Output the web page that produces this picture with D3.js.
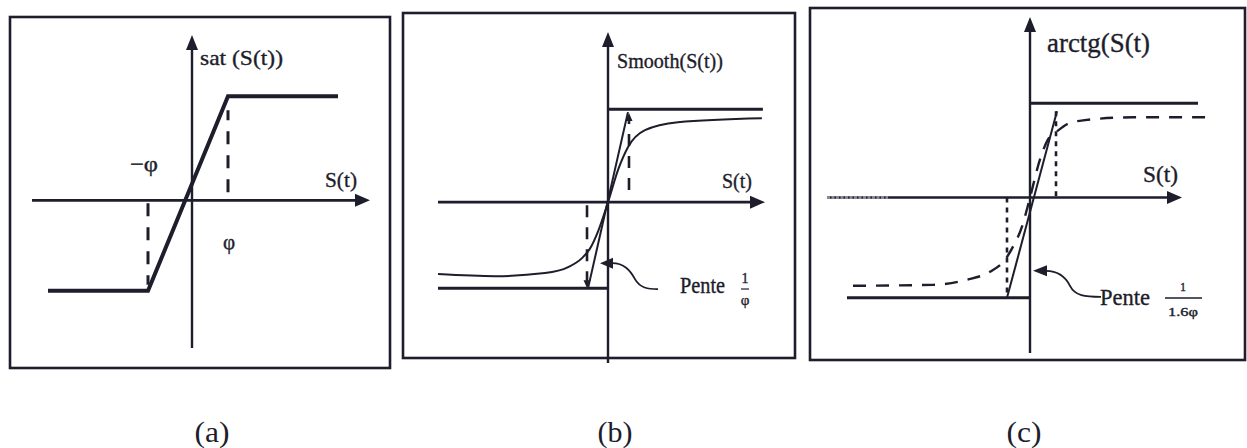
<!DOCTYPE html>
<html>
<head>
<meta charset="utf-8">
<script src="https://cdn.jsdelivr.net/npm/d3@7"></script>
<style>
  body { margin: 0; background: #fff; }
  svg { display: block; }
</style>
</head>
<body>
<svg id="chart" width="1247" height="448"></svg>
<script>
// ---------- (a) saturation function: x in units of φ, y in units of the saturation level
const satX = [-3.6, -1.1, 0.9, 3.65];
const satY = [-0.87, -0.87, 1.0, 1.0];
const satKneeX = [-1.1, 0.9];
const satKneeY = [-0.87, 1.0];

// ---------- (b) smooth function
const smoothX = [-8.1, -5.38, -3.0, -1.9, -1.24, -0.86, -0.45, 0, 0.5, 0.95, 1.76, 3.33, 7.33];
const smoothY = [-0.774, -0.796, -0.763, -0.699, -0.602, -0.5, -0.3, 0, 0.36, 0.591, 0.774, 0.86, 0.903];
const smoothLevelY = [1.0, -0.925];
const smoothLevelX = [[0, 7.38], [-8.1, 0]];
const smoothSlopeX = [-0.95, 0.95];
const smoothSlopeY = [-0.925, 0.968];
const smoothKneeX = [-1, 1];
const smoothKneeY = [[0, -0.925], [0.13, 0.96]];

// ---------- (c) arctangent function
const arctgX = [-7.08, -3.88, -2.52, -1.6, -1.0, -0.68, -0.32, 0, 0.4, 0.72, 1.08, 1.48, 2.12, 4.12, 7.08];
const arctgY = [-0.936, -0.926, -0.872, -0.787, -0.66, -0.521, -0.309, 0, 0.404, 0.617, 0.702, 0.777, 0.819, 0.851, 0.851];
const arctgLevelY = [1.0, -1.064];
const arctgLevelX = [[0, 6.72], [-7.32, 0]];
const arctgSlopeX = [-0.92, 1.08];
const arctgSlopeY = [-1.064, 0.915];
const arctgKneeX = [-0.92, 1.04];
const arctgKneeY = [[0, -1.064], [0.915, 0]];

// ---------- labels
const captions = ["(a)", "(b)", "(c)"];
const yLabels = ["sat (S(t))", "Smooth(S(t))", "arctg(S(t)"];
const xLabel = "S(t)";
const slopeWord = "Pente";
const slopeDen = ["φ", "1.6φ"];

// ---------- layout
const ink = "#1d1d2c";
const serif = "'Liberation Serif', 'Times New Roman', Times, serif";
const svg = d3.select("#chart");

const panels = [
  { frame: [10, 17, 390, 368], xDom: [-4, 4.45], xRng: [32, 370], yDom: [-1.42, 1.59], yRng: [348, 35] },
  { frame: [403, 13, 795, 358], xDom: [-8.1, 7.48], xRng: [438, 765], yDom: [-1.73, 1.83], yRng: [363, 32] },
  { frame: [810, 8, 1245, 360], xDom: [-8.12, 6.08], xRng: [827, 1182], yDom: [-1.649, 1.915], yRng: [353, 17] }
];
panels.forEach(p => {
  p.x = d3.scaleLinear().domain(p.xDom).range(p.xRng);
  p.y = d3.scaleLinear().domain(p.yDom).range(p.yRng);
  p.g = svg.append("g");
});

function tri(g, x, y, dir, len, hw) {
  let pts;
  if (dir === "up") pts = [[x, y], [x - hw, y + len], [x + hw, y + len]];
  if (dir === "down") pts = [[x, y], [x - hw, y - len], [x + hw, y - len]];
  if (dir === "right") pts = [[x, y], [x - len, y - hw], [x - len, y + hw]];
  if (dir === "left") pts = [[x, y], [x + len, y - hw], [x + len, y + hw]];
  g.append("path").attr("d", d3.line()(pts) + "Z").attr("fill", ink);
}

function seg(g, x1, y1, x2, y2, w, dash) {
  const l = g.append("line")
    .attr("x1", x1).attr("y1", y1).attr("x2", x2).attr("y2", y2)
    .attr("stroke", ink).attr("stroke-width", w);
  if (dash) l.attr("stroke-dasharray", dash);
  return l;
}

function frameAndAxes(p) {
  const [fx0, fy0, fx1, fy1] = p.frame;
  p.g.append("rect")
    .attr("x", fx0).attr("y", fy0).attr("width", fx1 - fx0).attr("height", fy1 - fy0)
    .attr("fill", "none").attr("stroke", ink).attr("stroke-width", 2.6);
  const x0 = p.x(0), y0 = p.y(0);
  const [xa, xb] = p.x.range();
  const [yb, ya] = p.y.range();
  seg(p.g, xa, y0, xb - 6, y0, 2.6);
  tri(p.g, xb, y0, "right", 15, 6.5);
  seg(p.g, x0, yb, x0, ya + 6, 2.4);
  tri(p.g, x0, ya, "up", 15, 6);
}

function txt(g, s, x, y, size, anchor, len) {
  const t = g.append("text").attr("x", x).attr("y", y)
    .attr("font-family", serif).attr("fill", ink)
    .attr("stroke", ink).attr("stroke-width", 0.35)
    .attr("font-size", size).attr("text-anchor", anchor || "start").text(s);
  if (len) t.attr("textLength", len).attr("lengthAdjust", "spacingAndGlyphs");
  return t;
}

// ===================== (a)
{
  const p = panels[0], g = p.g, x = p.x, y = p.y;
  frameAndAxes(p);
  // dashed guides at ±φ
  satKneeX.forEach((kx, i) => {
    const ky = satKneeY[i];
    seg(g, x(kx), y(0) + (ky < 0 ? 3 : -8), x(kx), y(ky) + (ky < 0 ? -6 : 14), 3, "13,11");
  });
  g.append("path")
    .datum(satX.map((v, i) => [v, satY[i]]))
    .attr("d", d3.line().x(d => x(d[0])).y(d => y(d[1])))
    .attr("fill", "none").attr("stroke", ink).attr("stroke-width", 4).attr("stroke-linejoin", "miter");
  txt(g, yLabels[0], x(0) + 8, 65, 22, "start", 83);
  txt(g, xLabel, 325, 187, 21, "start", 32);
  txt(g, "−φ", x(satKneeX[0]) - 4, 171, 21, "middle", 28);
  txt(g, "φ", x(satKneeX[1]) + 1, 249, 21, "middle");
}

// ===================== (b)
{
  const p = panels[1], g = p.g, x = p.x, y = p.y;
  frameAndAxes(p);
  smoothLevelY.forEach((lv, i) => {
    seg(g, x(smoothLevelX[i][0]), y(lv), x(smoothLevelX[i][1]), y(lv), 3);
  });
  // dashed guides with small arrowheads toward the levels
  smoothKneeX.forEach((kx, i) => {
    const [a, b] = smoothKneeY[i];
    seg(g, x(kx), y(a) + (i === 0 ? 3 : 0), x(kx), y(b) + (i === 0 ? -6 : 6), 2.6, "12,10");
    tri(g, x(kx), y(b), i === 0 ? "down" : "up", 8, 3.5);
  });
  // slope line
  seg(g, x(smoothSlopeX[0]), y(smoothSlopeY[0]), x(smoothSlopeX[1]), y(smoothSlopeY[1]), 2);
  // smooth curve
  g.append("path")
    .datum(smoothX.map((v, i) => [v, smoothY[i]]))
    .attr("d", d3.line().curve(d3.curveMonotoneX).x(d => x(d[0])).y(d => y(d[1])))
    .attr("fill", "none").attr("stroke", ink).attr("stroke-width", 2);
  // slope annotation
  const tx = x(0) - 8, ty = y(-0.656);
  tri(g, tx, ty, "left", 13, 5.5);
  g.append("path")
    .attr("d", `M${tx + 12},${ty} C${tx + 24},${ty} ${tx + 30},${ty + 7} ${tx + 35},${ty + 16} S${tx + 48},${ty + 26} ${tx + 58},${ty + 26}`)
    .attr("fill", "none").attr("stroke", ink).attr("stroke-width", 1.8);
  txt(g, slopeWord, 680, 293, 23, "start", 45);
  txt(g, "1", 745, 283, 14, "middle");
  seg(g, 741, 289, 749, 289, 1.2);
  txt(g, slopeDen[0], 745, 305, 15, "middle");
  txt(g, yLabels[1], x(0) + 9, 68, 21, "start", 106);
  txt(g, xLabel, 722, 188, 21, "start", 30);
}

// ===================== (c)
{
  const p = panels[2], g = p.g, x = p.x, y = p.y;
  frameAndAxes(p);
  // faded start of the horizontal axis
  seg(g, x.range()[0], y(0), x(-5.68), y(0), 3).attr("stroke", "#8a8a94").attr("stroke-dasharray", "3,1.5");
  arctgLevelY.forEach((lv, i) => {
    seg(g, x(arctgLevelX[i][0]), y(lv), x(arctgLevelX[i][1]), y(lv), 3);
  });
  // dotted guides
  arctgKneeX.forEach((kx, i) => {
    const [a, b] = arctgKneeY[i];
    seg(g, x(kx), y(a), x(kx), y(b), 2.6, "5,5");
  });
  // slope line
  seg(g, x(arctgSlopeX[0]), y(arctgSlopeY[0]), x(arctgSlopeX[1]), y(arctgSlopeY[1]), 2);
  // dashed arctangent curve
  g.append("path")
    .datum(arctgX.map((v, i) => [v, arctgY[i]]))
    .attr("d", d3.line().curve(d3.curveMonotoneX).x(d => x(d[0])).y(d => y(d[1])))
    .attr("fill", "none").attr("stroke", ink).attr("stroke-width", 2.4).attr("stroke-dasharray", "13,10");
  // slope annotation
  const tx = x(0) + 3, ty = y(-0.777);
  tri(g, tx, ty, "left", 14, 5.5);
  g.append("path")
    .attr("d", `M${tx + 13},${ty} C${tx + 24},${ty} ${tx + 32},${ty + 5} ${tx + 37},${ty + 15} S${tx + 52},${ty + 26} ${tx + 68},${ty + 26}`)
    .attr("fill", "none").attr("stroke", ink).attr("stroke-width", 1.8);
  txt(g, slopeWord, 1100, 305, 24, "start", 50);
  txt(g, "1", 1183, 291, 12, "middle");
  seg(g, 1165, 298, 1202, 298, 1.3);
  txt(g, slopeDen[1], 1183, 316, 12, "middle", 30);
  txt(g, yLabels[2], x(0) + 17, 52, 27, "start", 103);
  txt(g, xLabel, 1143, 182, 23, "start", 35);
}

// ===================== captions
const capX = [212, 615, 1024];
captions.forEach((c, i) => txt(svg, c, capX[i], 442, 29, "middle", 35).attr("stroke-width", 0));
</script>
</body>
</html>
